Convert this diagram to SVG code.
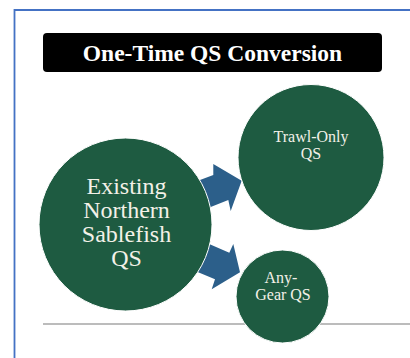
<svg xmlns="http://www.w3.org/2000/svg" width="410" height="358" viewBox="0 0 410 358">
<style>
.frame{fill:none;stroke:#4472C4;stroke-width:1.8}
.rule{stroke:#A6A6A6;stroke-width:1.5}
.arrow{fill:#2C5F8A}
.circ{fill:#1E5B41;stroke:#FFFFFF;stroke-width:1}
.lbl{fill:#F3F1E8;text-anchor:middle}
.title{font-weight:bold;fill:#FFFFFF;text-anchor:middle;font-size:23.5px}
</style>
<rect width="410" height="358" fill="#FFFFFF"/>
<path class="frame" d="M14.5,358 V10 H410"/>
<g id="title">
<rect x="43" y="33" width="339" height="39" rx="4" fill="#000000"/>
<text class="title" font-family="'Liberation Serif', 'DejaVu Serif', 'Times New Roman', serif" x="212.5" y="61">One-Time QS Conversion</text>
</g>
<line class="rule" x1="43" y1="324" x2="410" y2="324"/>
<g id="connectors">
<polygon class="arrow" points="190,183.7 213.3,175 213.3,164 241.7,180.7 230.7,211 228.3,200 200,211.3"/>
<polygon class="arrow" points="200,240 229.3,252.7 233.3,244 240,272.3 211.7,289.3 215,279.3 188,268"/>
</g>
<g id="existing">
<circle class="circ" cx="125.5" cy="224.5" r="86.5"/>
<text class="lbl" font-family="'Liberation Serif', 'DejaVu Serif', 'Times New Roman', serif" font-size="24"><tspan x="126.5" y="193.5">Existing</tspan><tspan x="126.5" y="217.5">Northern</tspan><tspan x="126.5" y="242">Sablefish</tspan><tspan x="126.5" y="266">QS</tspan></text>
</g>
<g id="trawl">
<circle class="circ" cx="311" cy="157.5" r="73"/>
<text class="lbl" font-family="'Liberation Serif', 'DejaVu Serif', 'Times New Roman', serif" font-size="16"><tspan x="311" y="141.5">Trawl-Only</tspan><tspan x="311" y="159">QS</tspan></text>
</g>
<g id="anygear">
<circle class="circ" cx="282.5" cy="296.5" r="46.5"/>
<text class="lbl" font-family="'Liberation Serif', 'DejaVu Serif', 'Times New Roman', serif" font-size="16"><tspan x="281" y="282.5">Any-</tspan><tspan x="283" y="300">Gear QS</tspan></text>
</g>
</svg>
